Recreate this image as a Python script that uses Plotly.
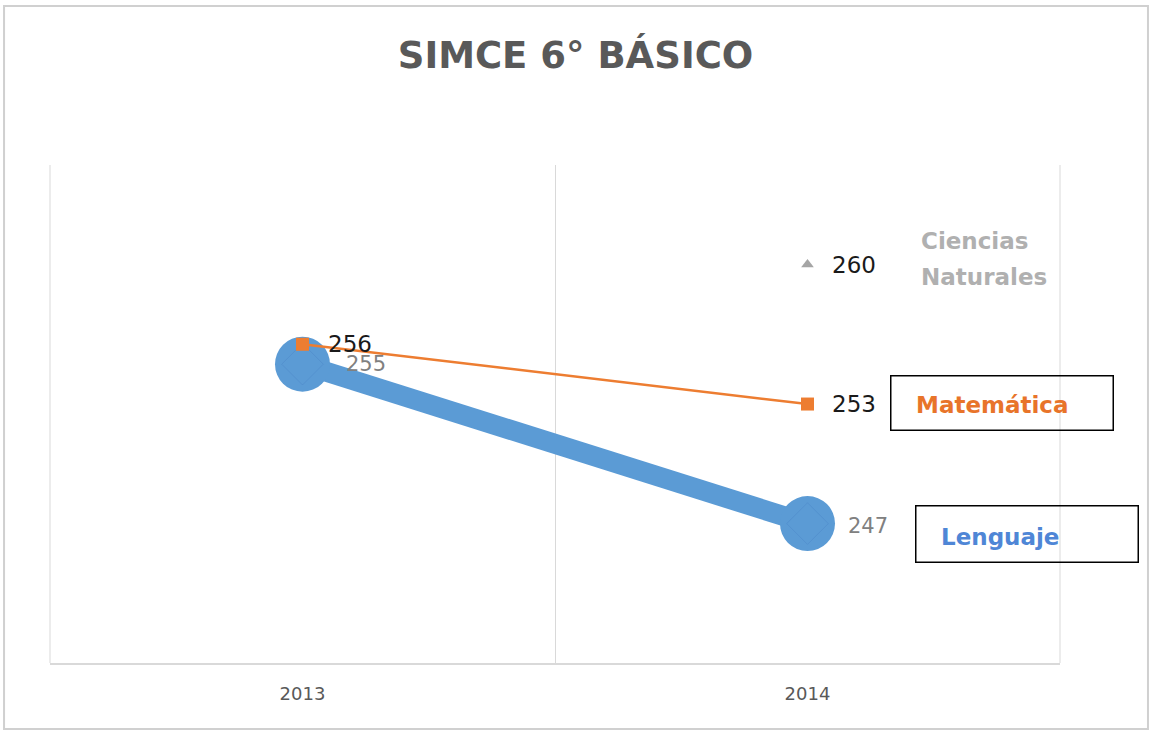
import plotly.graph_objects as go

# ---- data ----
years = ["2013", "2014"]
lenguaje = [255, 247]
matematica = [256, 253]
ciencias_years = ["2014"]
ciencias = [260]

title_text = "SIMCE 6° BÁSICO"
name_lenguaje = "Lenguaje"
name_matematica = "Matemática"
name_ciencias = ["Ciencias", "Naturales"]

BLUE = "#5B9BD5"
ORANGE = "#ED7D31"
GRAY = "#A5A5A5"

fig = go.Figure()

# Lenguaje: very thick line with big round markers
fig.add_trace(go.Scatter(
    x=years, y=lenguaje, mode="lines+markers", name=name_lenguaje,
    line=dict(color=BLUE, width=20),
    marker=dict(symbol="circle", size=55, color=BLUE, line=dict(width=0)),
    hoverinfo="x+y+name",
))
# faint diamond outline visible inside the big markers
fig.add_trace(go.Scatter(
    x=years, y=lenguaje, mode="markers", showlegend=False, hoverinfo="skip",
    marker=dict(symbol="diamond-open", size=32, color="rgba(70,125,195,0.35)",
                line=dict(width=1)),
))
# Matemática
fig.add_trace(go.Scatter(
    x=years, y=matematica, mode="lines+markers", name=name_matematica,
    line=dict(color=ORANGE, width=2.5),
    marker=dict(symbol="square", size=13, color=ORANGE),
))
# Ciencias Naturales
fig.add_trace(go.Scatter(
    x=ciencias_years, y=ciencias, mode="markers", name=" ".join(name_ciencias),
    marker=dict(symbol="triangle-up", size=11, color=GRAY),
))

FONT = "DejaVu Sans"
ann = []

def idx(y):
    return years.index(y)

# data labels
ann.append(dict(x=idx(years[0]), y=matematica[0], text=str(matematica[0]), xanchor="left",
                xshift=23, font=dict(family=FONT, size=23, color="#1a1a1a")))
ann.append(dict(x=idx(years[1]), y=matematica[1], text=str(matematica[1]), xanchor="left",
                xshift=22, font=dict(family=FONT, size=23, color="#1a1a1a")))
ann.append(dict(x=idx(years[0]), y=lenguaje[0], text=str(lenguaje[0]), xanchor="left",
                xshift=41, font=dict(family=FONT, size=21, color="#808080")))
ann.append(dict(x=idx(years[1]), y=lenguaje[1], text=str(lenguaje[1]), xanchor="left",
                xshift=38, yshift=-2, font=dict(family=FONT, size=21, color="#808080")))
ann.append(dict(x=idx(ciencias_years[0]), y=ciencias[0], text=str(ciencias[0]), xanchor="left",
                xshift=22, font=dict(family=FONT, size=23, color="#1a1a1a")))

# series name labels
ann.append(dict(x=idx(ciencias_years[0]), y=ciencias[0], text="<b>%s</b>" % name_ciencias[0],
                xanchor="left", xshift=111, yshift=24,
                font=dict(family=FONT, size=23, color="#B0B0B0")))
ann.append(dict(x=idx(ciencias_years[0]), y=ciencias[0], text="<b>%s</b>" % name_ciencias[1],
                xanchor="left", xshift=111, yshift=-12,
                font=dict(family=FONT, size=23, color="#B0B0B0")))

# boxes
ann.append(dict(x=idx(years[1]), y=matematica[1], text="\u00a0", xanchor="left", yanchor="middle",
                xshift=82, yshift=1, width=221, height=53, borderpad=0,
                bordercolor="#000000", borderwidth=1.5, font=dict(size=10)))
ann.append(dict(x=idx(years[1]), y=lenguaje[1], text="\u00a0", xanchor="left", yanchor="middle",
                xshift=107, yshift=-10, width=221, height=55, borderpad=0,
                bordercolor="#000000", borderwidth=1.5, font=dict(size=10)))

ann.append(dict(x=idx(years[1]), y=matematica[1], text="<b>%s</b>" % name_matematica, xanchor="left",
                xshift=106, yshift=-1, font=dict(family=FONT, size=23, color="#E8742A")))
ann.append(dict(x=idx(years[1]), y=lenguaje[1], text="<b>%s</b>" % name_lenguaje, xanchor="left",
                xshift=131, yshift=-13, font=dict(family=FONT, size=23, color="#4F86D6")))

for a in ann:
    a.setdefault("showarrow", False)
    a.setdefault("xref", "x")
    a.setdefault("yref", "y")

fig.update_layout(
    width=1151, height=731,
    margin=dict(l=50, r=91, t=165, b=68),
    paper_bgcolor="white", plot_bgcolor="white",
    showlegend=False,
    title=dict(text="<b>%s</b>" % title_text, x=0.5, xanchor="center",
               y=1 - 55 / 731, yanchor="middle",
               font=dict(family=FONT, size=37, color="#595959")),
    annotations=ann,
    shapes=[
        dict(type="rect", xref="paper", yref="paper",
             x0=-0.0455, x1=1.0871, y0=-0.1325, y1=1.3193,
             line=dict(color="#D0D0D0", width=2), layer="below"),
        dict(type="line", xref="paper", yref="paper", x0=0, x1=0, y0=0, y1=1,
             line=dict(color="#D9D9D9", width=1), layer="below"),
        dict(type="line", xref="paper", yref="paper", x0=1, x1=1, y0=0, y1=1,
             line=dict(color="#D9D9D9", width=1), layer="below"),
    ],
)

fig.update_xaxes(
    type="category", categoryorder="array", categoryarray=years,
    range=[-0.5, 1.5], tickson="boundaries",
    showgrid=True, gridcolor="#D9D9D9", gridwidth=1,
    showline=True, linecolor="#D9D9D9", linewidth=1.5,
    ticks="", ticklabelstandoff=14,
    tickfont=dict(family=FONT, size=18, color="#595959"),
    zeroline=False, fixedrange=True,
)
fig.update_yaxes(
    range=[240, 265], showgrid=False, showticklabels=False, zeroline=False,
    showline=False, ticks="", fixedrange=True,
)

fig.write_html("out.html", config={"displayModeBar": False},
               post_script="document.body.style.margin='0';document.body.style.overflow='hidden';")
